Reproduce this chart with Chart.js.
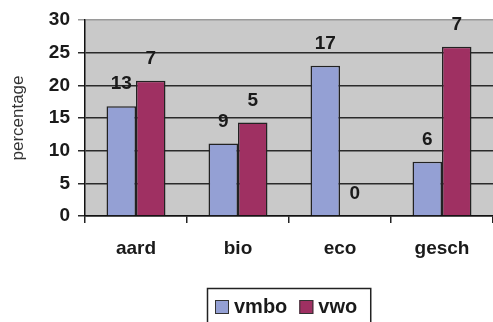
<!DOCTYPE html>
<html>
<head>
<meta charset="utf-8">
<script src="https://cdn.jsdelivr.net/npm/chart.js@4/dist/chart.umd.min.js"></script>
<style>
  html, body { margin: 0; padding: 0; background: #ffffff; }
  #wrap { width: 493px; height: 322px; }
</style>
</head>
<body>
<div id="wrap"><canvas id="c" width="493" height="322"></canvas></div>
<script>
// Subjects on the x axis
const categories = ['aard', 'bio', 'eco', 'gesch'];
// Percentages per school type (bar heights)
const vmboPct = [16.8, 11.1, 23.0, 8.3];
const vwoPct = [20.7, 14.3, 0, 25.9];
// Counts printed above each bar
const vmboCount = [13, 9, 17, 6];
const vwoCount = [7, 5, 0, 7];
// Y axis range and step
const yMin = 0, yMax = 30, yStep = 5;

const FONT = "'Liberation Sans', Arial, sans-serif";
const countsByDataset = [vmboCount, vwoCount];

// Grey plot background
const plotBackground = {
  id: 'plotBackground',
  beforeDraw(chart) {
    const { ctx, chartArea: a } = chart;
    ctx.save();
    ctx.fillStyle = '#c9c9c9';
    ctx.fillRect(a.left, a.top, a.right - a.left, a.bottom - a.top);
    ctx.restore();
  }
};

// Counts written above the bars
const countLabels = {
  id: 'countLabels',
  afterDatasetsDraw(chart) {
    const { ctx } = chart;
    ctx.save();
    ctx.font = 'bold 19px ' + FONT;
    ctx.fillStyle = '#1a1a1a';
    ctx.textAlign = 'center';
    ctx.textBaseline = 'middle';
    chart.data.datasets.forEach((ds, di) => {
      const meta = chart.getDatasetMeta(di);
      meta.data.forEach((bar, i) => {
        ctx.fillText(String(countsByDataset[di][i]), bar.x, bar.y - 22);
      });
    });
    ctx.restore();
  }
};

// Framed legend below the axis, centred under the plot area
const framedLegend = {
  id: 'framedLegend',
  afterDraw(chart) {
    const { ctx, chartArea: a } = chart;
    const ds = chart.data.datasets;
    ctx.save();
    ctx.font = 'bold 20px ' + FONT;
    const sw = 14, gapSwText = 5, gapItems = 12, padL = 8, padR = 13;
    const widths = ds.map(d => ctx.measureText(d.label).width);
    let total = padL + padR;
    widths.forEach((w, i) => { total += sw + gapSwText + w + (i < ds.length - 1 ? gapItems : 0); });
    const cx = (a.left + a.right) / 2;
    const left = Math.round(cx - total / 2);
    const top = 288;
    const cy = 307;
    ctx.strokeStyle = '#222';
    ctx.lineWidth = 1.5;
    ctx.strokeRect(left + 0.5, top + 0.5, total, 60);
    let x = left + padL;
    ds.forEach((d, i) => {
      ctx.fillStyle = d.backgroundColor;
      ctx.fillRect(x, cy - sw / 2, sw, sw);
      ctx.strokeStyle = '#333';
      ctx.lineWidth = 1;
      ctx.strokeRect(x + 0.5, cy - sw / 2 + 0.5, sw - 1, sw - 1);
      x += sw + gapSwText;
      ctx.fillStyle = '#1a1a1a';
      ctx.textAlign = 'left';
      ctx.textBaseline = 'middle';
      ctx.fillText(d.label, x, cy);
      x += widths[i] + gapItems;
    });
    ctx.restore();
  }
};

new Chart(document.getElementById('c'), {
  type: 'bar',
  data: {
    labels: categories,
    datasets: [
      {
        label: 'vmbo',
        data: vmboPct,
        backgroundColor: '#94a0d4',
        borderColor: '#222222',
        borderWidth: 1.5,
        borderSkipped: 'bottom',
        categoryPercentage: 0.578,
        barPercentage: 1.0
      },
      {
        label: 'vwo',
        data: vwoPct,
        backgroundColor: '#9f3062',
        borderColor: '#222222',
        borderWidth: 1.5,
        borderSkipped: 'bottom',
        categoryPercentage: 0.578,
        barPercentage: 1.0
      }
    ]
  },
  options: {
    responsive: false,
    animation: false,
    devicePixelRatio: 1,
    layout: { padding: { top: 20, right: 0, bottom: 0, left: 0 } },
    plugins: {
      legend: { display: false },
      tooltip: { enabled: false }
    },
    scales: {
      x: {
        grid: {
          display: true,
          drawOnChartArea: false,
          drawTicks: true,
          tickLength: 7,
          color: '#222',
          lineWidth: 1.5,
          offset: true
        },
        border: { display: true, color: '#111', width: 1.5 },
        ticks: {
          color: '#1a1a1a',
          font: { family: FONT, size: 19, weight: 'bold' },
          padding: 14
        },
        afterFit(scale) { scale.height = 106; }
      },
      y: {
        min: yMin,
        max: yMax,
        grid: {
          color: ctx => (ctx.tick && ctx.tick.value === yMax) ? '#9a9a9a' : '#2a2a2a',
          lineWidth: 1.5,
          drawTicks: true,
          tickLength: 7
        },
        border: { display: true, color: '#111', width: 1.5 },
        ticks: {
          stepSize: yStep,
          color: '#1a1a1a',
          font: { family: FONT, size: 19, weight: 'bold' },
          padding: 8
        },
        title: {
          display: true,
          text: 'percentage',
          color: '#333',
          font: { family: FONT, size: 17, weight: 'normal' },
          padding: { top: 8, bottom: 0 }
        },
        afterFit(scale) { scale.width = 85; }
      }
    }
  },
  plugins: [plotBackground, countLabels, framedLegend]
});
</script>
</body>
</html>
